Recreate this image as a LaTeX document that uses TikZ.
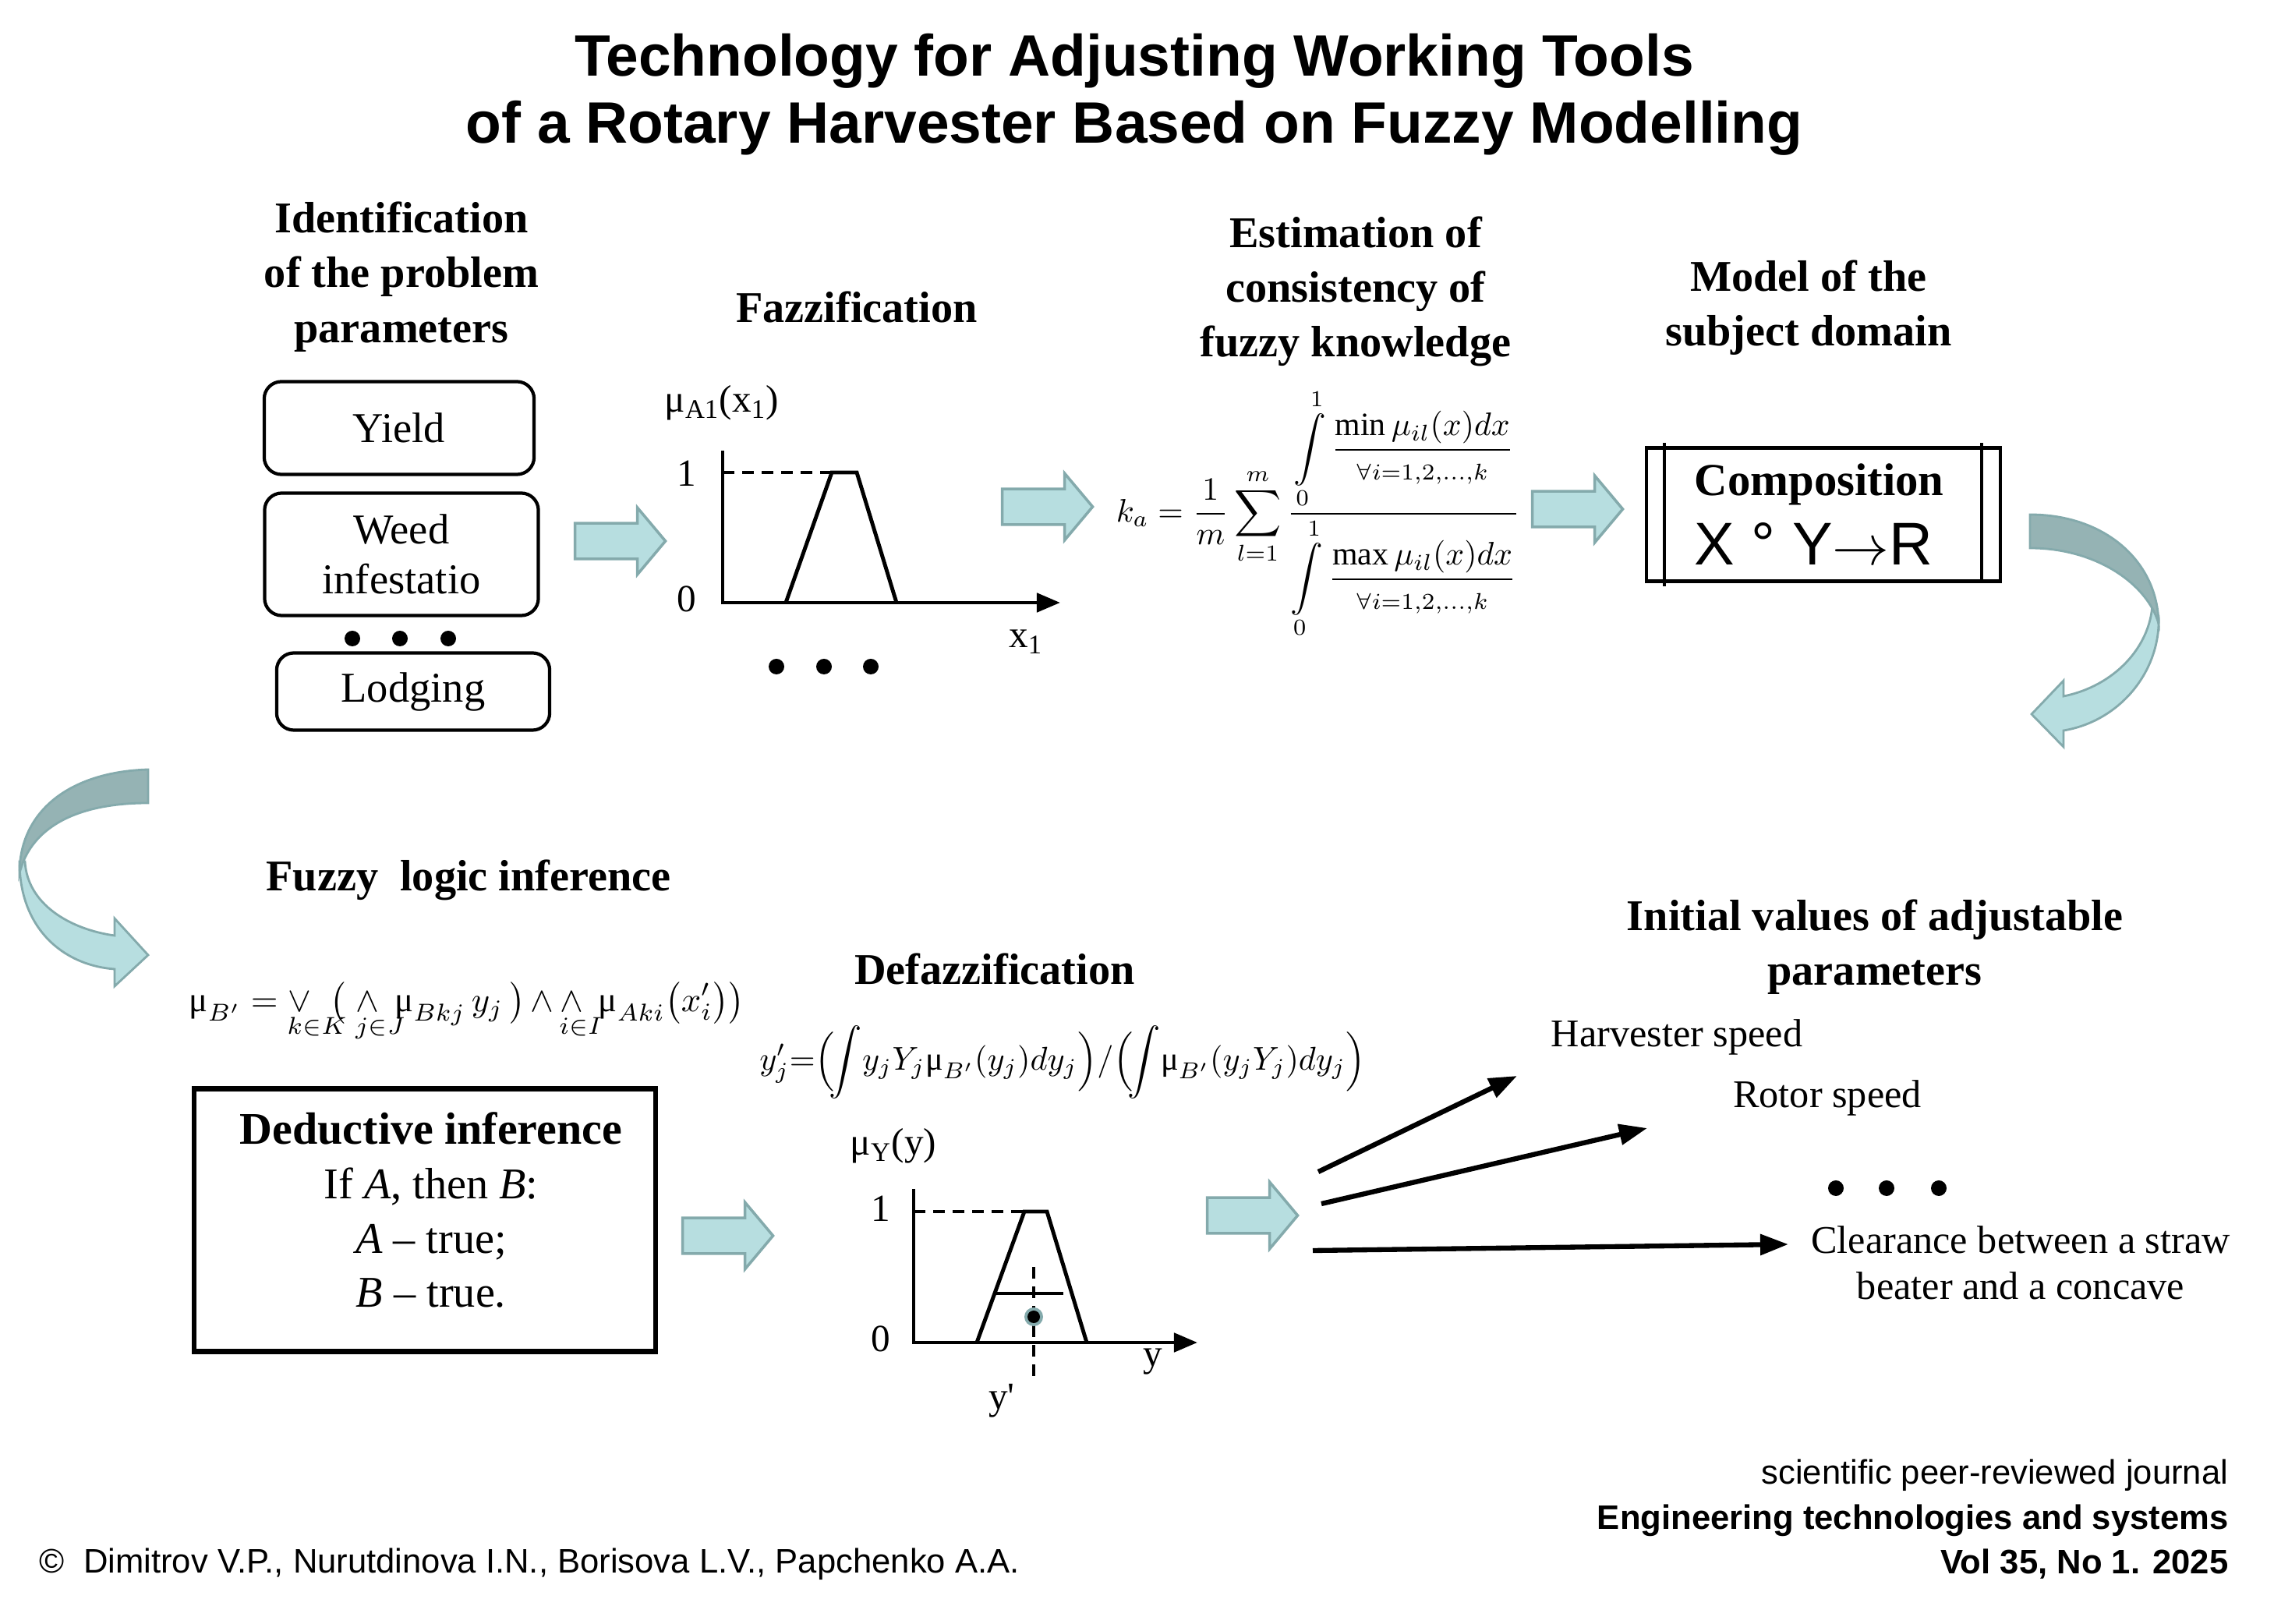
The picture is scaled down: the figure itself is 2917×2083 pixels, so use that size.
\documentclass[tikz,border=0pt]{standalone}
\usepackage{fontspec}
\usepackage{amsmath, amssymb}
\usepackage{mathtools}
\usepackage{graphicx}
\usepackage{xcolor}
\setmainfont{Liberation Serif}
\newfontfamily\arialfont{Liberation Sans}
\usetikzlibrary{
    shapes.arrows,
    arrows.meta,
    calc
}
\definecolor{arrowfill}{RGB}{183, 222, 224}
\definecolor{arrowedge}{RGB}{132, 170, 172}
\definecolor{arrowdark}{RGB}{149, 179, 180}
\newcommand{\mymu}{\text{μ}}
\newcommand{\undersub}[1]{\mathrlap{\hspace{-0.35em}#1}}

\begin{document}
\begin{tikzpicture}[
        x=0.01cm, y=-0.01cm,
        head/.style={align=center, font=\fontsize{16}{20}\selectfont\bfseries},
        param/.style={rectangle, draw, line width=1.2pt, rounded corners=0.22cm, align=center, font=\fontsize{15.5}{18}\selectfont},
        flow/.style={single arrow, draw=arrowedge, line width=1pt, fill=arrowfill, inner sep=0pt, text height=0.42cm, text depth=0pt, minimum height=1.16cm, single arrow head extend=0.2cm, single arrow tip angle=100},
        graph/.style={line width=1.4pt, line join=miter},
        axis/.style={graph, -{Triangle[length=0.3cm, width=0.24cm]}},
        level/.style={line width=1.4pt, dash pattern=on 0.15cm off 0.1cm},
        lbl/.style={font=\fontsize{14}{16}\selectfont, inner sep=1pt},
        result/.style={line width=1.8pt, -{Triangle[length=0.36cm, width=0.26cm]}},
        rtext/.style={font=\fontsize{14.3}{16.8}\selectfont, align=center},
        foot/.style={font=\arialfont\fontsize{12.4}{15}\selectfont, inner sep=0pt},
        footbold/.style={font=\arialfont\bfseries\fontsize{12.4}{15}\selectfont, inner sep=0pt}
    ]
    \useasboundingbox (0,0) rectangle (2917,2083);

    \node[align=center, font=\arialfont\bfseries\fontsize{21.3}{24.5}\selectfont] (title) at (1455,121) {Technology for Adjusting Working Tools\\of a Rotary Harvester Based on Fuzzy Modelling};

    % problem parameters
    \node[head] (ident) at (515,355) {Identification\\of the problem\\parameters};
    \node[param, minimum width=3.46cm, minimum height=1.19cm] (yield) at (512,549) {Yield};
    \node[param, minimum width=3.51cm, minimum height=1.57cm] (weed) at (515,711) {Weed\\infestatio};
    \foreach \x in {452,513,575} \fill (\x,819) circle (0.1cm);
    \node[param, minimum width=3.50cm, minimum height=0.99cm] (lodging) at (530,887) {Lodging};

    \node[flow] (arr1) at (786,694) {};

    % fuzzification
    \node[head] (fazz) at (1099,394) {Fazzification};
    \node[lbl] (mua) at (926,517) {μ\textsubscript{A1}(x\textsubscript{1})};
    \coordinate (oa) at (927,773);
    \draw[axis] (927,578) -- (oa) -- (1360,773);
    \draw[level] (927,606) -- (1067,606);
    \draw[graph] (1008,773) -- (1067,606) -- (1099,606) -- (1150,773);
    \node[lbl] (onea) at (881,607) {1};
    \node[lbl] (zeroa) at (881,768) {0};
    \node[lbl] (xa) at (1316,823) {x\textsubscript{1}};
    \foreach \x in {996,1057,1117} \fill (\x,855) circle (0.1cm);

    \node[flow] (arr2) at (1334,650) {};

    % consistency
    \node[head] (estim) at (1739,374) {Estimation of\\consistency of\\fuzzy knowledge};
    \node (kform) at (1691,659) {\resizebox{5.18cm}{!}{$\displaystyle k_a=\frac{1}{m}\sum_{l=1}^{m}\frac{\displaystyle\int\limits_0^1\frac{\min\mu_{il}(x)dx}{\scriptstyle\forall i=1,2,\ldots,k}}{\displaystyle\int\limits_0^1\frac{\max\mu_{il}(x)dx}{\scriptstyle\forall i=1,2,\ldots,k}}$}};

    \node[flow] (arr3) at (2014,653) {};

    % subject domain
    \node[head] (model) at (2320,395) {Model of the\\subject domain};
    \node[draw, line width=1.2pt, minimum width=4.54cm, minimum height=1.71cm] (comp) at (2339,660) {};
    \draw[line width=1.2pt] ($(comp.north west)+(25,-4)$) -- ($(comp.south west)+(25,4)$);
    \draw[line width=1.2pt] ($(comp.north east)+(-26,-4)$) -- ($(comp.south east)+(-26,0)$);
    \node[anchor=base west, inner sep=0pt, font=\fontsize{16.7}{19}\selectfont\bfseries] (compname) at (2173,636) {Composition};
    \node[anchor=base west, inner sep=0pt, font=\arialfont\fontsize{22}{25}\selectfont] (compform) at (2173,725) {X ° Y$\rightarrow$R};

    % curved arrow on the right
    \draw[arrowedge, fill=arrowfill, line width=0.8pt] (2769,790) .. controls (2772,860) and (2720,925) .. (2647,937) -- (2647,958) -- (2606,916) -- (2647,873) -- (2647,893) .. controls (2712,880) and (2758,830) .. (2761,775) -- cycle;
    \draw[arrowedge, fill=arrowdark, line width=0.8pt] (2604,660) .. controls (2700,660) and (2768,720) .. (2769,800) .. controls (2755,750) and (2690,703) .. (2604,703) -- cycle;

    % curved arrow on the left
    \draw[arrowedge, fill=arrowfill, line width=0.8pt] (25,1105) .. controls (25,1190) and (80,1238) .. (147,1243) -- (147,1265) -- (190,1225) -- (147,1178) -- (147,1200) .. controls (90,1192) and (35,1160) .. (32,1105) -- cycle;
    \draw[arrowedge, fill=arrowdark, line width=0.8pt] (190,987) .. controls (90,990) and (25,1040) .. (25,1120) .. controls (40,1060) and (100,1030) .. (190,1030) -- cycle;

    % inference
    \node[head] (infer) at (601,1129) {Fuzzy\ \ logic inference};
    \node (bform) at (599,1298) {\resizebox{7.12cm}{!}{$\displaystyle \mymu_{B'}=\mathop{\vee}\limits_{\undersub{k\in K}}\;\;\bigl(\;\mathop{\wedge}\limits_{\undersub{j\in J}}\;\mymu_{Bkj}\,y_j\,\bigr)\mathop{\wedge}\mathop{\wedge}\limits_{\undersub{i\in I}}\;\mymu_{Aki}\bigl(x_i'\bigr)\bigr)$}};
    \node[draw, line width=1.8pt, minimum width=5.92cm, minimum height=3.37cm] (deduct) at (545,1565) {};
    \node[align=center, font=\fontsize{16}{19.9}\selectfont] (deducttext) at (553,1552) {{\fontsize{16.5}{19.9}\selectfont\bfseries Deductive inference}\\If \textit{A}, then \textit{B}:\\\textit{A} – true;\\\textit{B} – true.};

    \node[flow] (arr4) at (924,1585) {};

    % defuzzification
    \node[head] (defazz) at (1276,1243) {Defazzification};
    \node (yform) at (1363,1362) {\resizebox{7.77cm}{!}{$\displaystyle y_j'{=}\Bigl(\!\int\! y_jY_j\mymu_{B'}(y_j)dy_j\Bigr)/\Bigl(\!\int\!\mymu_{B'}(y_jY_j)dy_j\Bigr)$}};
    \node[lbl] (muy) at (1146,1470) {μ\textsubscript{Y}(y)};
    \coordinate (ob) at (1172,1722);
    \draw[axis] (1172,1525) -- (ob) -- (1536,1722);
    \draw[level] (1172,1554) -- (1314,1554);
    \draw[graph] (1253,1722) -- (1314,1554) -- (1343,1554) -- (1394,1722);
    \draw[graph] (1276,1659) -- (1364,1659);
    \draw[level] (1326,1625) -- (1326,1770);
    \fill[arrowedge] (1326,1689) circle (0.12cm);
    \fill (1326,1689) circle (0.08cm);
    \node[lbl] (oneb) at (1130,1550) {1};
    \node[lbl] (zerob) at (1130,1717) {0};
    \node[lbl] (yb) at (1479,1747) {y};
    \node[lbl] (ypr) at (1285,1797) {y\textquotesingle};

    \node[flow] (arr5) at (1597,1559) {};

    % adjustable parameters
    \node[head] (initial) at (2405,1215) {Initial values of adjustable\\parameters};
    \node[rtext] (harv) at (2151,1330) {Harvester speed};
    \node[rtext] (rotor) at (2344,1408) {Rotor speed};
    \foreach \x in {2355,2420,2487} \fill (\x,1524) circle (0.1cm);
    \node[rtext] (clear) at (2592,1620) {Clearance between a straw\\beater and a concave};
    \coordinate (r1s) at (1691,1503);
    \coordinate (r1e) at (1946,1380);
    \coordinate (r2s) at (1695,1544);
    \coordinate (r2e) at (2113,1447);
    \coordinate (r3s) at (1684,1604);
    \coordinate (r3e) at (2294,1596);
    \draw[result] (r1s) -- (r1e);
    \draw[result] (r2s) -- (r2e);
    \draw[result] (r3s) -- (r3e);

    % footer
    \node[foot, anchor=east] (journal) at (2859,1892) {scientific peer-reviewed journal};
    \node[footbold, anchor=east] (jname) at (2859,1950) {Engineering technologies and systems};
    \node[footbold, anchor=east] (issue) at (2859,2006) {Vol 35, No 1. 2025};
    \node[foot, anchor=west] (authors) at (50,2006) {©\ \ Dimitrov V.P., Nurutdinova I.N., Borisova L.V., Papchenko A.A.};
\end{tikzpicture}
\end{document}
